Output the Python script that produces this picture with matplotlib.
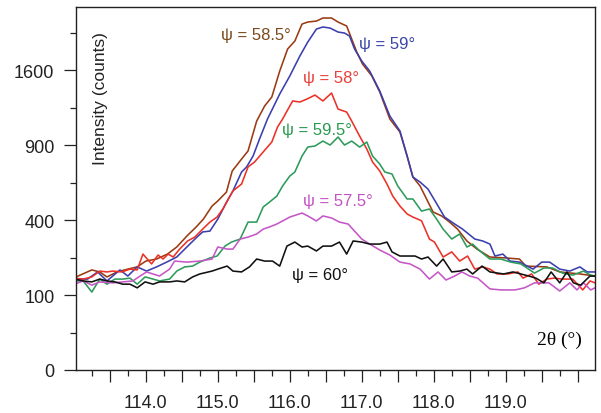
import numpy as np
import matplotlib
matplotlib.use("Agg")
import matplotlib.pyplot as plt
from matplotlib.ticker import FixedLocator, FuncFormatter

plt.rcParams['font.family'] = ['Liberation Sans', 'DejaVu Sans']

# 2theta (deg) and intensity (counts), one pair per psi
tt_585 = [113.03, 113.25, 113.36, 113.46, 113.60, 113.75, 113.88, 114.00, 114.15, 114.30,
          114.43, 114.57, 114.70, 114.80, 114.92, 115.00, 115.12, 115.20, 115.33, 115.42,
          115.54, 115.65, 115.75, 115.86, 115.97, 116.07, 116.17, 116.25, 116.37, 116.46,
          116.58, 116.67, 116.79, 116.86, 116.93, 117.01, 117.14, 117.25, 117.39, 117.53,
          117.63, 117.71, 117.81, 117.90, 117.99, 118.11, 118.22, 118.33, 118.46, 118.60,
          118.78, 119.01, 119.19, 119.28, 119.57, 119.75, 120.03, 120.24]
i_585 = [154, 178, 171, 154, 171, 181, 189, 211, 219, 239,
         269, 319, 364, 405, 478, 508, 563, 704, 791, 853,
         1102, 1239, 1325, 1589, 1832, 1924, 2128, 2153, 2165, 2203,
         2203, 2153, 2104, 1948, 1798, 1665, 1537, 1374, 1120, 1007,
         814, 662, 602, 520, 444, 422, 389, 353, 296, 260,
         227, 223, 219, 192, 189, 171, 164, 157]

tt_59 = [113.01, 113.19, 113.33, 113.46, 113.64, 113.75, 113.88, 114.01, 114.15, 114.29,
         114.43, 114.57, 114.71, 114.79, 114.89, 115.00, 115.13, 115.21, 115.33, 115.40,
         115.49, 115.58, 115.69, 115.86, 116.00, 116.14, 116.25, 116.37, 116.46, 116.56,
         116.67, 116.76, 116.83, 116.90, 117.00, 117.11, 117.25, 117.39, 117.53, 117.63,
         117.71, 117.81, 117.92, 118.06, 118.15, 118.29, 118.40, 118.57, 118.68, 118.78,
         118.85, 118.96, 119.06, 119.19, 119.38, 119.50, 119.61, 119.75, 119.89, 120.03,
         120.13, 120.24]
i_59 = [147, 147, 171, 141, 178, 157, 189, 174, 189, 207,
        227, 269, 314, 339, 343, 405, 508, 570, 697, 733,
        814, 949, 1120, 1354, 1537, 1753, 1913, 2067, 2092, 2079,
        2031, 2019, 1983, 1832, 1697, 1589, 1384, 1147, 1016, 814,
        662, 628, 582, 478, 416, 379, 353, 305, 296, 282,
        231, 239, 211, 207, 181, 207, 207, 181, 174, 189,
        171, 171]

tt_58 = [113.01, 113.13, 113.25, 113.36, 113.46, 113.54, 113.67, 113.78, 113.88, 113.96,
         114.08, 114.17, 114.24, 114.31, 114.38, 114.47, 114.58, 114.68, 114.79, 114.89,
         114.99, 115.07, 115.21, 115.33, 115.42, 115.51, 115.63, 115.75, 115.83, 115.90,
         116.00, 116.04, 116.14, 116.24, 116.35, 116.46, 116.58, 116.67, 116.79, 116.86,
         116.97, 117.07, 117.15, 117.25, 117.35, 117.43, 117.53, 117.63, 117.71, 117.83,
         117.94, 118.01, 118.13, 118.25, 118.36, 118.47, 118.57, 118.68, 118.78, 118.88,
         119.03, 119.17, 119.24, 119.36, 119.46, 119.57, 119.67, 119.79, 119.93, 120.07,
         120.17, 120.24]
i_58 = [150, 147, 154, 174, 171, 174, 171, 181, 178, 239,
        200, 235, 219, 239, 227, 260, 296, 314, 353, 389,
        416, 461, 570, 615, 733, 769, 845, 924, 1050, 1120,
        1239, 1287, 1277, 1306, 1344, 1287, 1364, 1211, 1183, 1102,
        973, 868, 769, 704, 615, 538, 478, 433, 416, 396,
        305, 291, 227, 248, 211, 231, 181, 189, 181, 164,
        164, 171, 150, 164, 131, 147, 150, 147, 147, 114,
        141, 135]

tt_595 = [113.01, 113.13, 113.25, 113.36, 113.46, 113.57, 113.68, 113.78, 113.88, 113.99,
          114.10, 114.19, 114.33, 114.43, 114.54, 114.65, 114.75, 114.89, 114.99, 115.10,
          115.19, 115.31, 115.42, 115.54, 115.63, 115.72, 115.82, 115.90, 116.00, 116.07,
          116.17, 116.25, 116.35, 116.46, 116.56, 116.67, 116.76, 116.86, 116.97, 117.07,
          117.15, 117.25, 117.32, 117.42, 117.50, 117.63, 117.71, 117.83, 117.94, 118.04,
          118.13, 118.25, 118.36, 118.46, 118.54, 118.64, 118.78, 118.93, 119.07, 119.21,
          119.40, 119.53, 119.65, 119.79, 119.93, 120.08, 120.18, 120.24]
i_595 = [141, 141, 108, 147, 131, 147, 147, 150, 131, 154,
         147, 141, 147, 174, 189, 192, 207, 223, 231, 273,
         291, 305, 389, 389, 472, 502, 538, 602, 669, 697,
         814, 884, 892, 932, 900, 965, 900, 932, 884, 924,
         814, 754, 697, 683, 602, 520, 520, 449, 461, 405,
         353, 305, 329, 269, 282, 252, 219, 219, 207, 200,
         167, 185, 185, 167, 160, 174, 160, 157]

tt_575 = [113.01, 113.13, 113.25, 113.36, 113.54, 113.68, 113.82, 113.92, 114.01, 114.19,
          114.33, 114.40, 114.57, 114.75, 114.92, 115.00, 115.13, 115.21, 115.31, 115.42,
          115.54, 115.63, 115.72, 115.82, 115.90, 116.00, 116.17, 116.25, 116.37, 116.46,
          116.58, 116.69, 116.81, 116.90, 117.00, 117.11, 117.25, 117.39, 117.53, 117.67,
          117.81, 117.94, 118.06, 118.17, 118.29, 118.39, 118.50, 118.61, 118.78, 118.93,
          119.13, 119.26, 119.40, 119.60, 119.75, 119.89, 119.99, 120.08, 120.18, 120.24]
i_575 = [131, 141, 128, 138, 135, 138, 141, 157, 171, 157,
         181, 211, 207, 211, 219, 269, 260, 260, 305, 314,
         329, 353, 364, 379, 395, 416, 438, 422, 395, 422,
         411, 389, 379, 343, 305, 282, 256, 235, 207, 200,
         181, 147, 171, 144, 157, 171, 157, 150, 117, 114,
         114, 120, 135, 135, 111, 135, 114, 135, 114, 120]

tt_60 = [113.01, 113.13, 113.25, 113.36, 113.46, 113.57, 113.68, 113.78, 113.88, 113.99,
         114.10, 114.19, 114.33, 114.43, 114.54, 114.65, 114.75, 114.92, 115.00, 115.13,
         115.21, 115.33, 115.44, 115.54, 115.65, 115.76, 115.86, 115.96, 116.07, 116.17,
         116.25, 116.37, 116.46, 116.58, 116.69, 116.79, 116.88, 117.00, 117.11, 117.25,
         117.35, 117.42, 117.53, 117.74, 117.83, 117.92, 118.04, 118.13, 118.25, 118.36,
         118.46, 118.54, 118.67, 118.78, 118.97, 119.10, 119.21, 119.32, 119.42, 119.53,
         119.63, 119.75, 119.85, 119.94, 120.04, 120.17, 120.24]
i_60 = [147, 141, 138, 147, 141, 138, 131, 131, 120, 138,
        131, 138, 138, 141, 138, 154, 164, 174, 181, 192,
        174, 171, 189, 219, 211, 211, 192, 273, 291, 269,
        273, 252, 273, 273, 291, 239, 296, 291, 282, 282,
        291, 248, 231, 231, 219, 227, 192, 219, 171, 174,
        181, 164, 192, 171, 164, 171, 164, 157, 150, 135,
        171, 135, 171, 135, 128, 157, 157]

series = [
    (tt_585, i_585, '#9a3b12'),
    (tt_59, i_59, '#3b3fae'),
    (tt_58, i_58, '#ec3127'),
    (tt_595, i_595, '#2e9a5c'),
    (tt_575, i_575, '#c657c6'),
    (tt_60, i_60, '#111111'),
]

# label text, x, y (data coords), colour
labels = [
    ('ψ = 58.5°', 115.53, 2000, '#7b4a1c'),
    ('ψ = 59°', 117.35, 1900, '#3b46aa'),
    ('ψ = 58°', 116.57, 1520, '#e8403a'),
    ('ψ = 59.5°', 116.38, 1030, '#2a9a50'),
    ('ψ = 57.5°', 116.67, 510, '#c452c4'),
    ('ψ = 60°', 116.42, 163, '#111111'),
]

fig = plt.figure(figsize=(6.01, 4.14), dpi=100)
ax = fig.add_axes([76 / 601, 43 / 414, 519 / 601, 363 / 414])

for x, y, c in series:
    ax.plot(x, y, color=c, linewidth=1.15)

ax.set_yscale('function', functions=(lambda v: np.sqrt(np.maximum(v, 0)), np.square))
ax.set_ylim(0, 2343)
ax.set_xlim(113.03, 120.24)

ax.yaxis.set_major_locator(FixedLocator([0, 100, 400, 900, 1600]))
ax.yaxis.set_minor_locator(FixedLocator([25, 225, 625, 1225, 2025]))
ax.yaxis.set_major_formatter(FuncFormatter(lambda v, p: f'{v:.0f}'))
ax.yaxis.set_minor_formatter(FuncFormatter(lambda v, p: ''))

ax.xaxis.set_major_locator(FixedLocator(np.arange(113.5, 120.01, 0.5)))
ax.xaxis.set_minor_locator(FixedLocator(np.arange(113.25, 120.24, 0.5)))
ax.xaxis.set_major_formatter(FuncFormatter(
    lambda v, p: f'{v:.1f}' if abs(v - round(v)) < 1e-6 and 114 <= v <= 119 else ''))

ax.tick_params(which='major', direction='out', length=8.5, width=0.9,
               labelsize=13, colors='#222222')
ax.tick_params(axis='y', which='major', pad=7)
ax.tick_params(axis='x', which='major', pad=9)
ax.tick_params(which='minor', direction='out', length=4.3, width=0.9, colors='#222222')

for s in ax.spines.values():
    s.set_linewidth(1.0)
    s.set_color('#222222')

for txt, x, y, c in labels:
    ax.text(x, y, txt, color=c, fontsize=12, ha='center', va='center',
            family=['Liberation Sans', 'DejaVu Sans'])

ax.text(0.047, 0.75, 'Intensity (counts)', transform=ax.transAxes, rotation=90,
        fontsize=12.5, ha='center', va='center', color='#222222')
ax.text(0.975, 0.085, '2θ (°)', transform=ax.transAxes, fontsize=14,
        ha='right', va='center', family=['Liberation Serif', 'DejaVu Serif'])

fig.savefig('out.png', dpi=100, facecolor='white')
